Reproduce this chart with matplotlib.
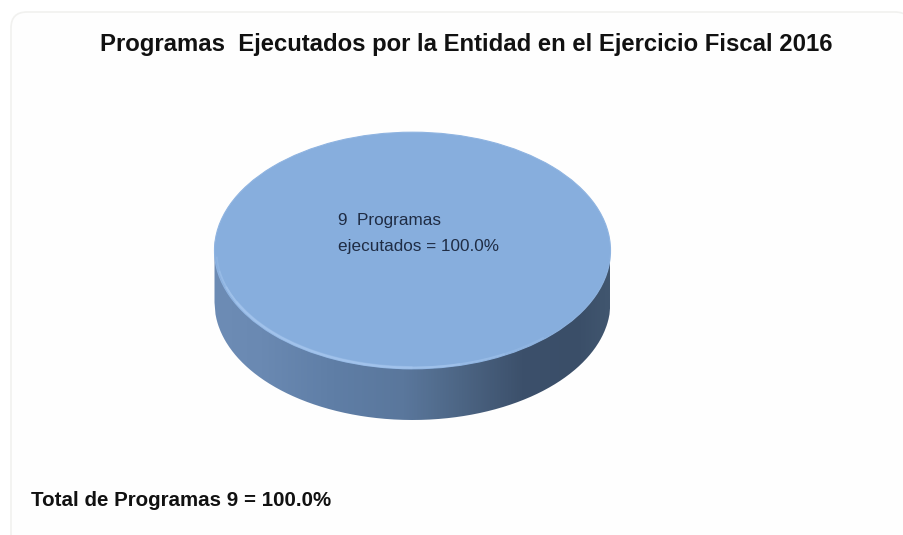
import numpy as np
import matplotlib
matplotlib.use("Agg")
import matplotlib.pyplot as plt
from matplotlib.colors import LinearSegmentedColormap
from matplotlib.patches import FancyBboxPatch, PathPatch, Arc
from matplotlib.path import Path

plt.rcParams['font.family'] = ['Liberation Sans', 'DejaVu Sans']

title = "Programas  Ejecutados por la Entidad en el Ejercicio Fiscal 2016"
categories = ["9  Programas\nejecutados = 100.0%"]
values = [9]
total_label = "Total de Programas 9 = 100.0%"

W, H = 904, 535
fig = plt.figure(figsize=(W / 100, H / 100), dpi=100, facecolor="white")

bg = fig.add_axes([0, 0, 1, 1])
bg.set_xlim(0, W)
bg.set_ylim(H, 0)
bg.axis("off")
bg.add_patch(FancyBboxPatch((11, 12), 900, 540, boxstyle="round,pad=0,rounding_size=16",
                            fc="#fefefe", ec="#f1f1ef", lw=1.2))

cx, cy, rx, ry, depth = 412.5, 250.5, 198, 117.5, 52

# side wall gradient
t = np.linspace(-1, 1, 400)
side = LinearSegmentedColormap.from_list("side", [
    (0.00, "#6d8cb5"), (0.12, "#6a89b2"), (0.30, "#5f7ea6"), (0.48, "#5a779c"),
    (0.62, "#4d6685"), (0.78, "#3c506b"), (0.92, "#3a4e68"), (1.00, "#41566f")])
xs = cx + rx * t
upper = cy + ry * np.sqrt(1 - t ** 2)
verts = list(zip(xs, upper + depth)) + list(zip(xs[::-1], upper[::-1] - 10))
clip = PathPatch(Path(verts + [verts[0]]), fc="none", ec="none", transform=bg.transData)
bg.add_patch(clip)
im = bg.imshow(np.linspace(0, 1, 400)[None, :], cmap=side, extent=(cx - rx, cx + rx, cy + ry + depth, cy - 10),
               aspect="auto", zorder=2)
im.set_clip_path(clip)
bg.set_xlim(0, W)
bg.set_ylim(H, 0)

# top face from the data
pie_ax = fig.add_axes([(cx - rx - 2) / W, 1 - (cy + ry + 2) / H, (2 * rx + 4) / W, (2 * ry + 4) / H])
pie_ax.patch.set_alpha(0)
wedges, _ = pie_ax.pie(values, radius=1.0, colors=["#87aedd"], startangle=90,
                       wedgeprops=dict(ec="#8fb4e1", lw=0.8))
pie_ax.set_aspect("auto")
pie_ax.set_xlim(-1.01, 1.01)
pie_ax.set_ylim(-1.01, 1.01)
# light bevel on the lower-left rim, fading towards both ends
for t1, t2, lw, a in ((183, 312, 1.2, 0.25), (190, 298, 1.4, 0.3), (198, 284, 1.6, 0.45), (206, 270, 2.4, 0.3)):
    pie_ax.add_patch(Arc((0, 0), 1.98, 1.98, theta1=t1, theta2=t2, ec="#a9c9f0", lw=lw, alpha=a))

bg.set_zorder(0)
pie_ax.set_zorder(1)
overlay = fig.add_axes([0, 0, 1, 1])
overlay.set_xlim(0, W)
overlay.set_ylim(H, 0)
overlay.axis("off")
overlay.set_zorder(2)

overlay.text(466.5, 45, title, ha="center", va="center", fontsize=17.2, fontweight="bold", color="#111111")
line1, line2 = categories[0].split("\n")
overlay.text(338, 220, line1, ha="left", va="center", fontsize=12.3, color="#1f2c44")
overlay.text(338, 246, line2, ha="left", va="center", fontsize=12.3, color="#1f2c44")
overlay.text(31, 501, total_label, ha="left", va="center", fontsize=14.8, fontweight="bold", color="#111111")

fig.savefig("out.png", dpi=100)
